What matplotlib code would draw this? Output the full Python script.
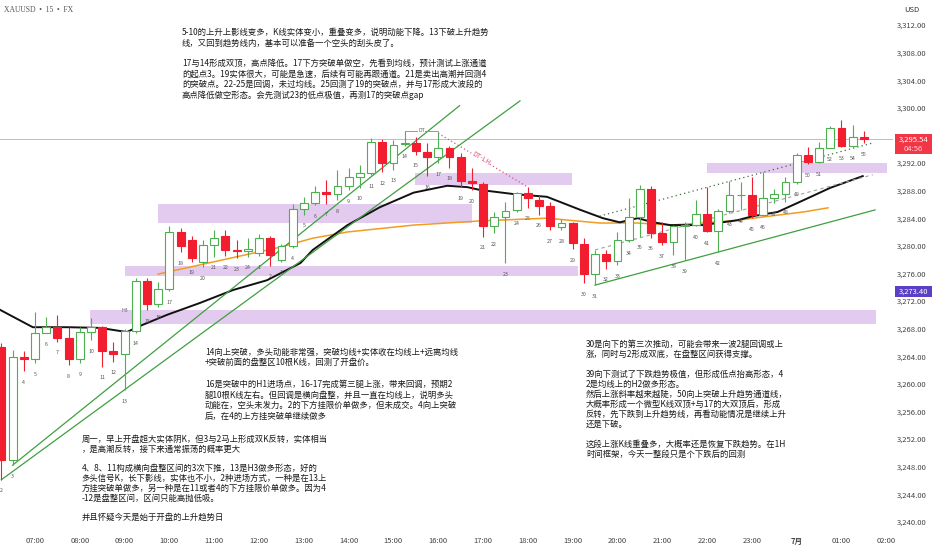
import numpy as np
import matplotlib.pyplot as plt
from matplotlib.patches import Rectangle

plt.rcParams['font.family'] = ['Noto Sans CJK SC', 'DejaVu Sans']

# XAUUSD 15m bars, first visible bar 06:15, last 01:30 (next day)
opens = [3265.4, 3249.0, 3263.9, 3263.6, 3267.4, 3268.2, 3266.7, 3263.6, 3267.5, 3268.2,
         3264.7, 3264.3, 3267.7, 3274.9, 3271.6, 3273.7, 3282.0, 3280.8, 3277.7, 3280.1,
         3281.4, 3279.4, 3279.2, 3279.0, 3281.1, 3277.9, 3279.9, 3285.4, 3286.2, 3287.8,
         3287.5, 3288.7, 3289.9, 3290.5, 3295.1, 3292.0, 3294.7, 3294.9, 3293.6, 3292.8,
         3294.2, 3292.9, 3289.4, 3289.0, 3282.8, 3284.2, 3285.2, 3287.6, 3286.7, 3285.8,
         3282.7, 3283.3, 3280.3, 3275.9, 3278.8, 3277.8, 3280.9, 3284.1, 3288.3, 3281.8,
         3280.5, 3282.8, 3283.0, 3284.6, 3282.2, 3285.0, 3287.3, 3287.4, 3284.5, 3286.9,
         3287.5, 3289.3, 3293.2, 3292.1, 3294.2, 3297.0, 3294.5, 3295.7]
highs = [3265.9, 3264.9, 3264.7, 3270.4, 3269.7, 3270.0, 3268.3, 3268.2, 3269.5, 3268.4,
         3266.1, 3268.0, 3275.3, 3275.3, 3274.8, 3282.9, 3282.6, 3281.4, 3280.8, 3282.3,
         3282.3, 3280.8, 3281.1, 3281.7, 3281.4, 3280.3, 3286.1, 3287.1, 3288.6, 3289.5,
         3291.0, 3291.3, 3291.7, 3295.6, 3295.5, 3295.3, 3296.7, 3295.8, 3294.9, 3296.3,
         3294.5, 3293.4, 3291.3, 3289.3, 3284.9, 3286.4, 3287.8, 3288.5, 3287.4, 3286.4,
         3283.9, 3283.5, 3281.2, 3279.4, 3279.4, 3282.0, 3286.9, 3288.8, 3288.7, 3283.5,
         3283.0, 3283.5, 3286.7, 3288.5, 3285.4, 3289.4, 3289.3, 3290.0, 3290.7, 3288.3,
         3290.0, 3293.4, 3294.3, 3295.0, 3297.3, 3298.2, 3297.5, 3296.6]
lows = [3246.1, 3248.2, 3261.8, 3263.0, 3267.3, 3266.1, 3262.7, 3263.0, 3266.3, 3262.5,
        3263.2, 3259.1, 3267.4, 3270.7, 3271.2, 3273.4, 3279.1, 3277.7, 3276.9, 3278.4,
        3278.5, 3278.2, 3278.4, 3278.5, 3277.1, 3277.7, 3279.7, 3284.5, 3285.9, 3286.1,
        3286.6, 3288.1, 3288.4, 3290.2, 3290.7, 3291.0, 3294.5, 3293.2, 3290.1, 3292.0,
        3291.3, 3288.5, 3288.1, 3281.3, 3281.8, 3277.5, 3284.9, 3285.5, 3284.5, 3282.3,
        3282.3, 3279.5, 3274.6, 3274.3, 3276.7, 3277.2, 3280.5, 3281.3, 3281.2, 3280.1,
        3278.6, 3277.9, 3282.8, 3282.0, 3279.1, 3284.7, 3285.2, 3284.0, 3284.3, 3286.2,
        3286.4, 3289.0, 3291.8, 3292.0, 3294.1, 3294.3, 3294.3, 3294.9]
closes = [3249.0, 3263.9, 3263.6, 3267.4, 3268.2, 3266.7, 3263.6, 3267.5, 3268.2, 3264.7,
          3264.3, 3267.7, 3274.9, 3271.6, 3273.7, 3282.0, 3280.0, 3278.2, 3280.1, 3281.1,
          3279.4, 3279.2, 3279.5, 3281.1, 3278.7, 3279.9, 3285.4, 3286.2, 3287.8, 3287.5,
          3288.7, 3289.9, 3290.5, 3295.1, 3292.0, 3294.6, 3294.9, 3293.7, 3292.8, 3294.2,
          3292.9, 3289.4, 3289.1, 3282.8, 3284.1, 3285.1, 3287.6, 3286.9, 3285.8, 3282.8,
          3283.3, 3280.4, 3275.9, 3278.8, 3277.8, 3280.9, 3284.1, 3288.3, 3281.8, 3280.5,
          3282.8, 3283.0, 3284.6, 3282.2, 3285.0, 3287.3, 3287.4, 3284.5, 3286.9, 3287.5,
          3289.3, 3293.1, 3292.1, 3294.2, 3297.0, 3294.5, 3295.7, 3295.54]
bar_labels = [str(n) for n in range(2, 25)] + [str(n) for n in range(1, 56)]

# moving averages (bar index, price)
black_idx = [-0.1, 2.8, 5.9, 8.8, 11.2, 12.4, 14.8, 17.7, 20.7, 23.7, 26.7, 27.8, 30.9,
             33.8, 36.8, 39.8, 41.6, 42.7, 45.7, 48.7, 51.7, 53.7, 55.2, 56.8, 58.2, 59.7,
             62.6, 65.7, 67.1, 69.3, 71.6, 74.0, 76.9]
black_val = [3270.7, 3268.2, 3268.2, 3268.1, 3267.5, 3268.4, 3270.0, 3271.7, 3273.6, 3275.0,
             3277.5, 3279.4, 3283.0, 3285.6, 3287.7, 3288.7, 3288.5, 3288.1, 3287.5, 3287.1,
             3285.2, 3284.0, 3283.4, 3284.0, 3283.4, 3283.0, 3283.0, 3283.7, 3284.3, 3284.9,
             3286.6, 3288.4, 3290.1]
orange_idx = [14.0, 24.9, 27.8, 30.9, 36.8, 42.7, 48.7, 53.4, 56.8, 59.7, 62.6, 65.7, 68.6,
              71.6, 73.8]
orange_val = [3275.9, 3279.8, 3281.1, 3282.0, 3283.0, 3283.6, 3284.0, 3283.3, 3283.3, 3283.0,
              3283.3, 3283.7, 3284.3, 3284.9, 3285.5]

# zones (start bar, end bar, low, high)
zones = [(36.9, 50.9, 3288.8, 3290.6),
         (14.0, 42.0, 3283.3, 3286.1),
         (11.0, 51.5, 3275.6, 3277.1),
         (7.9, 78.1, 3268.7, 3270.7),
         (63.0, 79.1, 3290.6, 3292.0)]

trend_a = ([1, 40.9], [3248.2, 3300.3])
trend_b = ([0, 46.3], [3246.1, 3301.0])
trend_c = ([53, 78], [3274.3, 3285.2])
chan_dot = ([53.4, 77.8], [3284.3, 3294.9])
chan_dash = ([53, 77.8], [3279.4, 3290.3])
dt_lh = ([39, 47], [3296.3, 3288.5])

last_price = 3295.54
alert_price = 3273.40

time_ticks = list(range(3, 80, 4))
time_labels = ['07:00', '08:00', '09:00', '10:00', '11:00', '12:00', '13:00', '14:00',
               '15:00', '16:00', '17:00', '18:00', '19:00', '20:00', '21:00', '22:00',
               '23:00', '7月', '01:00', '02:00']
price_ticks = list(range(3240, 3313, 4))

note1 = ("5-10的上升上影线变多，K线实体变小，重叠变多，说明动能下降。13下破上升趋势\n"
         "线，又回到趋势线内，基本可以准备一个空头的刮头皮了。\n\n"
         "17与14形成双顶，高点降低。17下方突破单做空，先看到均线，预计测试上涨通道\n"
         "的起点3。19实体很大，可能是急速，后续有可能再跟通道。21是卖出高潮并回测4\n"
         "的突破点。22-25是回调，未过均线。25回测了19的突破点，并与17形成大波段的\n"
         "高点降低做空形态。会先测试23的低点极值，再测17的突破点gap")
note2 = ("14向上突破，多头动能非常强，突破均线+实体收在均线上+远离均线\n"
         "+突破前面的盘整区10根K线，回测了开盘价。\n\n"
         "16是突破中的H1进场点，16-17完成第三腿上涨，带来回调，预期2\n"
         "腿10根K线左右。但回调是横向盘整，并且一直在均线上，说明多头\n"
         "动能在，空头未发力。2的下方挂限价单做多，但未成交。4向上突破\n"
         "后，在4的上方挂突破单继续做多")
note3 = ("周一，早上开盘超大实体阴K，但3与2马上形成双K反转，实体相当\n"
         "，是高潮反转，接下来通常振荡的概率更大\n\n"
         "4、8、11构成横向盘整区间的3次下推，13是H3做多形态，好的\n"
         "多头信号K，长下影线，实体也不小，2种进场方式，一种是在13上\n"
         "方挂突破单做多，另一种是在11或者4的下方挂限价单做多。因为4\n"
         "-12是盘整区间，区间只能高抛低吸。\n\n"
         "并且怀疑今天是始于开盘的上升趋势日")
note4 = ("30是向下的第三次推动，可能会带来一波2腿回调或上\n"
         "涨，同时与2形成双底，在盘整区间获得支撑。\n\n"
         "39向下测试了下跌趋势极值，但形成低点抬高形态，4\n"
         "2是均线上的H2做多形态。\n"
         "然后上涨斜率越来越陡，50向上突破上升趋势通道线，\n"
         "大概率形成一个微型K线双顶+与17的大双顶后，形成\n"
         "反转，先下跌到上升趋势线，再看动能情况是继续上升\n"
         "还是下破。\n\n"
         "这段上涨K线重叠多，大概率还是恢复下跌趋势。在1H\n"
         "时间框架，今天一整段只是个下跌后的回测")

W, H = 932, 550
green = '#4caf50'
red = '#f21d2f'

fig = plt.figure(figsize=(W / 100, H / 100), dpi=100)
ax = fig.add_axes([0, 20 / H, 893 / W, 530 / H])
ax.set_xlim(-0.125, 79.6)
ax.set_ylim(3238.81, 3315.62)
for s in ax.spines.values():
    s.set_visible(False)

for x0, x1, lo, hi in zones:
    ax.add_patch(Rectangle((x0, lo), x1 - x0, hi - lo, facecolor='#e2cbee',
                           edgecolor='none', zorder=1))

ax.axhline(last_price, color='#f5a3b3', lw=0.7, zorder=2)

ax.plot(orange_idx, orange_val, color='#f39c1f', lw=1.1, zorder=2.5)
ax.plot(black_idx, black_val, color='#111111', lw=1.4, zorder=2.6)

for xs, ys in (trend_a, trend_b, trend_c):
    ax.plot(xs, ys, color='#3f9f3f', lw=0.9, zorder=2.7)
ax.plot(*chan_dot, color='#3c6e3c', lw=0.9, ls=(0, (1, 2.5)), zorder=2.7)
ax.plot(*chan_dash, color='#a0a0a0', lw=0.8, ls=(0, (3, 3)), zorder=2.7)
ax.plot(*dt_lh, color='#e0517f', lw=0.9, ls=(0, (1, 2)), zorder=2.7)
ax.text(42.8, 3292.7, 'DT-LH', color='#e0517f', fontsize=5, rotation=-30.5,
        ha='center', va='center', zorder=6,
        bbox=dict(facecolor='white', edgecolor='none', pad=0.3))

# double top bracket
ax.plot([36, 36, 39, 39], [3296.1, 3296.7, 3296.7, 3296.1], color='#8a8a8a', lw=0.6, zorder=5)
ax.text(37.5, 3296.7, 'DT', color='#666666', fontsize=3.8, ha='center', va='center',
        zorder=6, bbox=dict(facecolor='white', edgecolor='none', pad=0.2))
ax.text(11, 3270.6, 'H3', color='#666666', fontsize=3.8, ha='center', va='center', zorder=6)

for i, (o, h, l, c) in enumerate(zip(opens, highs, lows, closes)):
    up = c >= o
    col = green if up else red
    ax.vlines(i, l, h, color=col, lw=0.8, zorder=3)
    ax.bar(i, max(abs(c - o), 0.12), width=0.7, bottom=min(o, c),
           facecolor='white' if up else red, edgecolor=col, lw=0.8, zorder=4)
    ax.annotate(bar_labels[i], (i, l), xytext=(0, -8), textcoords='offset points',
                ha='center', va='center', fontsize=3.8, color='#555555', zorder=5)

ax.yaxis.tick_right()
ax.set_yticks(price_ticks)
# the 3,296 label sits under the last-price tag, so it is left blank
ax.set_yticklabels(['' if p == 3296 else f'{p:,.2f}' for p in price_ticks])
ax.set_xticks(time_ticks)
ax.set_xticklabels(time_labels)
ax.tick_params(axis='y', length=0, pad=3, labelsize=5.5, labelcolor='#444444')
ax.tick_params(axis='x', length=0, pad=5, labelsize=5.5, labelcolor='#444444')
for t in ax.get_xticklabels():
    if t.get_text() == '7月':
        t.set_fontweight('bold')


def ftext(x, y, s, **kw):
    fig.text(x / W, 1 - y / H, s, **kw)


ftext(4, 10, 'XAUUSD  •  15  •  FX', fontsize=5.5, color='#555555', va='center',
      family='Liberation Serif')
ftext(904, 10, 'USD', fontsize=5.5, color='#333333', va='center')

body = dict(fontsize=6, color='#1a1a1a', va='top', ha='left')
ftext(182, 28, note1, linespacing=1.2, **body)
ftext(205, 347.5, note2, linespacing=1.25, **body)
ftext(81.5, 434.5, note3, linespacing=1.12, **body)
ftext(586, 339.5, note4, linespacing=1.15, **body)

# price labels on the scale
fig.add_artist(Rectangle((895 / W, 1 - 154 / H), 37 / W, 20 / H, transform=fig.transFigure,
                         facecolor='#f23645', edgecolor='none'))
ftext(913.5, 139.5, f'{last_price:,.2f}', fontsize=5.5, color='white', ha='center', va='center')
ftext(913.5, 149, '04:56', fontsize=5.5, color='#ffd2d8', ha='center', va='center')
fig.add_artist(Rectangle((895 / W, 1 - 297 / H), 37 / W, 11 / H, transform=fig.transFigure,
                         facecolor='#5b3fc6', edgecolor='none'))
ftext(913.5, 291.5, f'{alert_price:,.2f}', fontsize=5.5, color='white', ha='center', va='center')

fig.savefig('out.png', dpi=100, facecolor='white')
